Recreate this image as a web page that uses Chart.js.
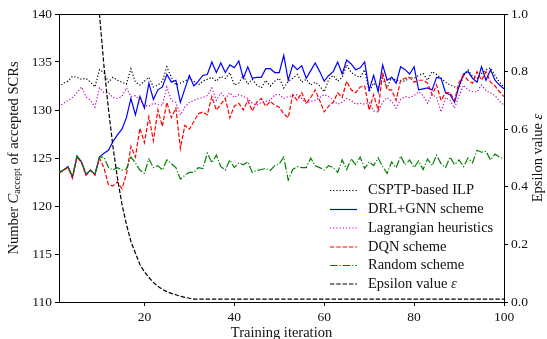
<!DOCTYPE html>
<html lang="en">
<head>
<meta charset="UTF-8">
<title>Accepted SCRs vs training iteration</title>
<script src="https://cdn.jsdelivr.net/npm/chart.js"></script>
<style>
  html, body { margin: 0; padding: 0; background: #fff; }
</style>
</head>
<body>
<canvas id="chart" width="547" height="339"></canvas>
<script>
// training iterations 1..100
const iterations = Array.from({ length: 100 }, (_, i) => i + 1);

const ilp = [
  132.4, 132.8, 133.0, 133.5, 133.4, 133.2, 133.3, 132.9, 132.4, 134.2,
  133.9, 132.9, 133.4, 133.1, 132.9, 132.7, 134.3, 132.9, 132.6, 133.0,
  133.4, 132.4, 132.6, 133.0, 134.5, 133.4, 132.6, 132.8, 133.0, 133.3,
  133.0, 132.6, 133.0, 133.2, 133.4, 133.0, 133.5, 133.3, 133.9, 132.6,
  132.8, 133.6, 132.7, 133.2, 132.6, 132.3, 133.1, 132.5, 133.0, 133.3,
  132.3, 133.0, 133.3, 133.7, 132.9, 133.2, 132.6, 132.9, 132.5, 131.9,
  133.2, 133.6, 133.0, 133.4, 134.7, 133.9, 133.6, 133.4, 134.2, 131.9,
  132.8, 132.3, 133.3, 132.3, 133.4, 133.1, 133.0, 133.0, 133.4, 133.3,
  133.6, 133.8, 133.1, 134.0, 133.7, 133.3, 132.9, 132.6, 132.4, 132.3,
  133.6, 134.2, 133.5, 133.3, 133.8, 134.2, 134.4, 133.6, 132.9, 132.4
];

const drlGnn = [
  123.5, 123.75, 124.1, 123.0, 125.2, 124.6, 123.3, 123.75, 123.3, 125.1,
  125.5, 125.8, 126.7, 127.4, 128.0, 129.2, 131.2, 129.5, 131.4, 130.2,
  132.8, 131.1, 132.1, 132.4, 133.7, 132.9, 133.1, 130.8, 132.2, 133.6,
  132.5, 133.0, 133.6, 133.7, 135.0, 133.9, 134.9, 133.9, 134.7, 134.4,
  135.1, 133.3, 134.5, 133.3, 133.4, 133.4, 134.3, 134.3, 133.9, 133.9,
  135.7, 133.1, 134.7, 134.2, 134.6, 133.3, 134.1, 134.9, 134.0, 133.0,
  133.6, 134.0, 135.0, 133.75, 135.2, 134.8, 134.2, 134.4, 135.0, 132.1,
  133.6, 131.9, 134.7, 133.1, 133.4, 132.8, 134.5, 134.2, 133.75, 134.5,
  132.1, 132.2, 132.3, 132.1, 133.4, 133.3, 131.8, 131.6, 130.8, 132.5,
  133.75, 134.0, 133.3, 132.9, 134.5, 133.1, 134.2, 133.1, 132.6, 132.2
];

const lagrangian = [
  130.3, 130.7, 131.0, 131.3, 131.8, 132.4, 131.4, 131.0, 130.3, 132.3,
  131.8, 131.8, 131.3, 131.2, 131.4, 132.3, 131.4, 131.5, 131.0, 130.5,
  130.4, 130.7, 130.6, 130.5, 132.4, 131.0, 130.8, 129.5, 130.3, 130.8,
  131.0, 131.2, 131.3, 131.5, 132.3, 131.0, 131.8, 131.2, 131.8, 131.3,
  131.6, 131.4, 131.2, 130.7, 130.5, 130.8, 130.9, 131.0, 131.6, 131.6,
  131.2, 131.4, 131.5, 131.6, 131.2, 130.7, 130.9, 131.0, 131.3, 131.6,
  131.4, 131.0, 130.6, 130.8, 131.2, 131.0, 130.6, 130.7, 130.6, 130.8,
  129.9, 129.8, 130.8, 131.3, 130.9, 130.2, 131.1, 131.4, 131.3, 131.5,
  131.9, 131.5, 130.7, 131.6, 131.3, 129.8, 131.3, 131.0, 130.2, 131.5,
  132.6, 132.1, 131.9, 131.9, 132.6, 132.0, 131.8, 131.5, 130.9, 130.5
];

const dqn = [
  123.4, 123.7, 124.0, 122.9, 125.1, 124.5, 123.2, 123.7, 123.2, 125.0,
  124.0, 122.2, 122.1, 122.5, 121.8, 123.3, 126.2, 125.1, 128.1, 126.6,
  129.3, 126.8, 130.0, 128.3, 130.8, 129.2, 130.2, 126.0, 128.4, 128.0,
  128.8, 129.6, 129.8, 129.5, 131.4, 130.0, 130.6, 131.2, 129.2, 130.4,
  130.7, 130.0, 131.0, 129.9, 130.8, 131.2, 130.4, 130.9, 130.5, 130.3,
  129.6, 129.2, 131.6, 131.0, 131.8, 130.7, 131.3, 132.1, 131.0, 129.8,
  130.4, 130.8, 131.8, 131.3, 133.0, 132.1, 131.8, 132.4, 132.5, 130.0,
  131.6, 130.0, 133.9, 132.1, 132.1, 131.0, 133.1, 133.3, 133.4, 132.9,
  133.1, 133.1, 132.8, 131.6, 132.6, 131.0, 131.8, 131.8, 131.0, 132.9,
  133.6, 133.1, 132.8, 134.0, 133.1, 134.0, 132.9, 132.5, 131.9, 131.4
];

const randomScheme = [
  123.5, 123.75, 124.1, 123.1, 125.2, 124.6, 123.3, 123.75, 123.3, 125.1,
  125.1, 124.0, 123.75, 124.0, 123.75, 123.85, 125.1, 124.5, 123.75, 123.4,
  124.9, 124.0, 124.2, 123.75, 124.8, 124.4, 124.0, 122.8, 123.2, 123.5,
  123.5, 124.0, 123.9, 125.5, 124.5, 125.3, 124.1, 123.75, 124.8, 124.0,
  124.5, 124.3, 124.6, 123.5, 123.7, 123.8, 123.9, 123.7, 124.2, 124.4,
  125.1, 122.7, 123.8, 124.1, 124.0, 124.0, 125.0, 124.2, 124.0, 123.75,
  124.2, 124.0, 123.5, 124.8, 123.8, 124.9, 124.3, 125.1, 123.9, 124.6,
  124.2, 125.0, 124.1, 123.4, 124.6, 124.0, 125.2, 124.3, 124.8, 124.0,
  124.7, 123.8, 124.9, 124.2, 125.3, 124.4, 124.0, 125.1, 124.3, 124.8,
  124.1, 125.0, 124.5, 125.8, 125.6, 125.7, 124.8, 125.4, 125.1, 124.9
];

// epsilon on the right axis, off the top before iteration 9
const epsilon = [
  null, null, null, null, null, null, null, null, 1.22, 1.0,
  0.82, 0.67, 0.54, 0.43, 0.34, 0.27, 0.21, 0.17, 0.13, 0.105,
  0.085, 0.068, 0.055, 0.044, 0.036, 0.03, 0.025, 0.02, 0.016, 0.013,
  0.01, 0.01, 0.01, 0.01, 0.01, 0.01, 0.01, 0.01, 0.01, 0.01,
  0.01, 0.01, 0.01, 0.01, 0.01, 0.01, 0.01, 0.01, 0.01, 0.01,
  0.01, 0.01, 0.01, 0.01, 0.01, 0.01, 0.01, 0.01, 0.01, 0.01,
  0.01, 0.01, 0.01, 0.01, 0.01, 0.01, 0.01, 0.01, 0.01, 0.01,
  0.01, 0.01, 0.01, 0.01, 0.01, 0.01, 0.01, 0.01, 0.01, 0.01,
  0.01, 0.01, 0.01, 0.01, 0.01, 0.01, 0.01, 0.01, 0.01, 0.01,
  0.01, 0.01, 0.01, 0.01, 0.01, 0.01, 0.01, 0.01, 0.01, 0.01
];

const seriesLabels = ['CSPTP-based ILP', 'DRL+GNN scheme', 'Lagrangian heuristics',
                      'DQN scheme', 'Random scheme', 'Epsilon value'];
const xTicks = [20, 40, 60, 80, 100];

const FONT = 'Liberation Serif';
const INK = '#111';
const TXT = 14.5; // titles and legend
Chart.defaults.font.family = FONT;
Chart.defaults.font.size = 13.5;
Chart.defaults.color = INK;

const toPoints = arr => arr.map((v, i) => ({ x: iterations[i], y: v }));

const styles = [
  { color: '#000000', dash: [1.2, 2.0] },
  { color: '#0000ff', dash: [] },
  { color: '#bf00bf', dash: [1.2, 2.0] },
  { color: '#ff0000', dash: [4.4, 1.9] },
  { color: '#008000', dash: [7.7, 1.9, 1.2, 1.9] },
  { color: '#000000', dash: [4.4, 1.9] }
];
const values = [ilp, drlGnn, lagrangian, dqn, randomScheme, epsilon];

const datasets = values.map((arr, k) => ({
  label: seriesLabels[k],
  data: toPoints(arr),
  yAxisID: k === 5 ? 'y2' : 'y',
  borderColor: styles[k].color,
  borderDash: styles[k].dash,
  borderWidth: 1.2,
  pointRadius: 0,
  tension: 0,
  fill: false,
  order: 5 - k
}));

const font = (size, italic) => (italic ? 'italic ' : '') + size + 'px "' + FONT + '"';

// draws a row of text runs centred on 0 along the current x direction
function drawRuns(ctx, runs) {
  let total = 0;
  runs.forEach(r => { ctx.font = r.f; r.w = ctx.measureText(r.t).width; total += r.w; });
  let x = -total / 2;
  runs.forEach(r => { ctx.font = r.f; ctx.fillText(r.t, x, r.dy || 0); x += r.w; });
}

// frame top, axis titles and the in-plot legend
const decorations = {
  id: 'decorations',
  afterDraw(chart) {
    const { ctx, chartArea: a } = chart;
    ctx.save();
    ctx.strokeStyle = '#000';
    ctx.lineWidth = 1;
    ctx.beginPath();
    ctx.moveTo(a.left, a.top + 0.5);
    ctx.lineTo(a.right, a.top + 0.5);
    ctx.stroke();

    ctx.fillStyle = INK;
    ctx.textBaseline = 'middle';
    ctx.textAlign = 'center';
    ctx.font = font(TXT);
    ctx.fillText('Training iteration', (a.left + a.right) / 2, 333);

    const midY = (a.top + a.bottom) / 2;
    ctx.textAlign = 'left';

    ctx.save();
    ctx.translate(14, midY);
    ctx.rotate(-Math.PI / 2);
    drawRuns(ctx, [
      { t: 'Number ', f: font(TXT) },
      { t: 'C', f: font(TXT, true) },
      { t: 'accept', f: font(10), dy: 3 },
      { t: ' of accepted SCRs', f: font(TXT) }
    ]);
    ctx.restore();

    ctx.save();
    ctx.translate(538, midY);
    ctx.rotate(-Math.PI / 2);
    drawRuns(ctx, [
      { t: 'Epsilon value ', f: font(TXT) },
      { t: 'ε', f: font(TXT, true) }
    ]);
    ctx.restore();

    // legend
    const lx0 = a.right - 174, lx1 = a.right - 147, tx = a.right - 136;
    const rowY = [190.5, 209.5, 228, 247, 265.5, 284];
    seriesLabels.forEach((lab, k) => {
      const y = rowY[k];
      ctx.save();
      ctx.strokeStyle = styles[k].color;
      ctx.lineWidth = 1.2;
      ctx.setLineDash(styles[k].dash);
      ctx.beginPath();
      ctx.moveTo(lx0, y);
      ctx.lineTo(lx1, y);
      ctx.stroke();
      ctx.restore();
      ctx.font = font(TXT);
      ctx.fillText(lab, tx, y);
      if (k === 5) {
        const w = ctx.measureText(lab + ' ').width;
        ctx.font = font(TXT, true);
        ctx.fillText('ε', tx + w, y);
      }
    });
    ctx.restore();
  }
};

const axisGrid = { drawOnChartArea: false, drawTicks: true, tickLength: 4, color: '#000' };
const axisBorder = { display: true, color: '#000', width: 1 };

new Chart(document.getElementById('chart'), {
  type: 'line',
  data: { datasets },
  options: {
    responsive: false,
    animation: false,
    layout: { padding: { top: 14, left: 0, right: 0, bottom: 0 } },
    plugins: { legend: { display: false }, tooltip: { enabled: false } },
    scales: {
      x: {
        type: 'linear',
        min: 1,
        max: 100,
        afterFit: s => { s.height = 37; },
        afterBuildTicks: s => { s.ticks = xTicks.map(v => ({ value: v })); },
        ticks: { padding: 3, color: INK },
        grid: axisGrid,
        border: axisBorder
      },
      y: {
        position: 'left',
        min: 110,
        max: 140,
        afterFit: s => { s.width = 59; },
        ticks: { stepSize: 5, padding: 3, color: INK },
        grid: axisGrid,
        border: axisBorder
      },
      y2: {
        position: 'right',
        min: 0,
        max: 1,
        afterFit: s => { s.width = 43; },
        ticks: { stepSize: 0.2, padding: 3, color: INK, callback: v => v.toFixed(1) },
        grid: axisGrid,
        border: axisBorder
      }
    }
  },
  plugins: [decorations]
});
</script>
</body>
</html>
